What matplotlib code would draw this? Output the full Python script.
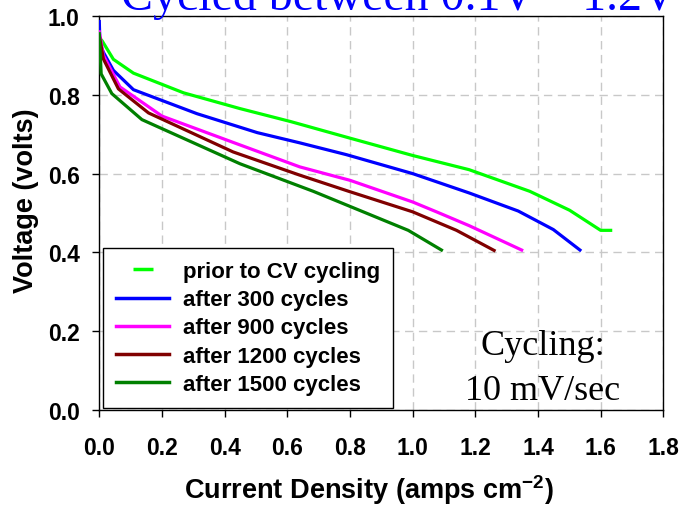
import matplotlib
matplotlib.use("Agg")
import matplotlib.pyplot as plt
from matplotlib.lines import Line2D

# polarization curves (current density, voltage)
prior_x = [0.0, 0.009, 0.045, 0.109, 0.269, 0.449, 0.611, 0.8, 1.0, 1.18, 1.374, 1.501, 1.6, 1.632]
prior_y = [0.945, 0.937, 0.89, 0.855, 0.805, 0.765, 0.732, 0.69, 0.646, 0.61, 0.555, 0.507, 0.456, 0.456]

c300_x = [0.0, 0.002, 0.013, 0.045, 0.109, 0.312, 0.504, 0.64, 0.789, 1.0, 1.18, 1.337, 1.449, 1.534]
c300_y = [0.986, 0.93, 0.908, 0.862, 0.813, 0.752, 0.704, 0.678, 0.648, 0.6, 0.551, 0.505, 0.458, 0.406]

c900_x = [0.0, 0.013, 0.066, 0.2, 0.438, 0.64, 0.8, 1.0, 1.076, 1.18, 1.348]
c900_y = [0.96, 0.9, 0.82, 0.746, 0.676, 0.617, 0.583, 0.528, 0.503, 0.468, 0.406]

c1200_x = [0.0, 0.013, 0.061, 0.157, 0.427, 0.64, 0.8, 1.0, 1.14, 1.26]
c1200_y = [0.95, 0.891, 0.815, 0.754, 0.655, 0.596, 0.554, 0.503, 0.456, 0.405]

c1500_x = [0.0, 0.006, 0.04, 0.136, 0.449, 0.683, 0.986, 1.092]
c1500_y = [0.955, 0.853, 0.803, 0.737, 0.625, 0.555, 0.456, 0.406]

labels = ["prior to CV cycling", "after 300 cycles", "after 900 cycles",
          "after 1200 cycles", "after 1500 cycles"]
colors = ["#00ff00", "#0000ff", "#ff00ff", "#800000", "#008000"]

x_ticks = [0.0, 0.2, 0.4, 0.6, 0.8, 1.0, 1.2, 1.4, 1.6, 1.8]
y_ticks = [0.0, 0.2, 0.4, 0.6, 0.8, 1.0]

plt.rcParams['font.family'] = ['Liberation Sans', 'DejaVu Sans']
plt.rcParams['mathtext.fontset'] = 'custom'
plt.rcParams['mathtext.rm'] = 'Liberation Sans'
plt.rcParams['mathtext.bf'] = 'Liberation Sans:bold'

W, H = 683, 506
fig = plt.figure(figsize=(W / 100, H / 100), dpi=100)
ax_l, ax_r, ax_t, ax_b = 99.3, 663.3, 17, 411
ax = fig.add_axes([ax_l / W, 1 - ax_b / H, (ax_r - ax_l) / W, (ax_b - ax_t) / H])
aw, ah = ax_r - ax_l, ax_b - ax_t

series = [(prior_x, prior_y), (c300_x, c300_y), (c900_x, c900_y),
          (c1200_x, c1200_y), (c1500_x, c1500_y)]
for (xs, ys), col in zip(series, colors):
    ax.plot(xs, ys, color=col, lw=2.3, zorder=3)

ax.set_xlim(0, 1.8)
ax.set_ylim(0, 1.0)
ax.set_xticks(x_ticks)
ax.set_yticks(y_ticks)
ax.set_xticklabels(["%.1f" % v for v in x_ticks], fontsize=16.5, fontweight='bold')
ax.set_yticklabels(["%.1f" % v for v in y_ticks], fontsize=16.5, fontweight='bold')
ax.tick_params(direction='out', length=5, width=1, top=False, right=False)
ax.tick_params(axis='x', pad=14)
ax.tick_params(axis='y', pad=9)
ax.grid(True, color='#c8c8c8', linestyle=(0, (6, 4)), lw=1)
for s in ax.spines.values():
    s.set_linewidth(1.0)
    s.set_color('black')

ax.set_xlabel("Current Density (amps cm$^{\\mathbf{-2}}$)", fontsize=19.5, fontweight='bold')
ax.set_ylabel("Voltage (volts)", fontsize=19.5, fontweight='bold')
ax.xaxis.label.set_va('center')
ax.yaxis.label.set_va('center')
ax.xaxis.set_label_coords((368.5 - ax_l) / aw, (ax_b - 490) / ah)
ax.yaxis.set_label_coords((26 - ax_l) / aw, (ax_b - 201) / ah)

handles = [Line2D([], [], color=colors[0], lw=0, marker='_', markersize=14, markeredgewidth=2.5)]
handles += [Line2D([], [], color=c, lw=2.5) for c in colors[1:]]
leg = ax.legend(handles, labels, loc='lower left',
                bbox_to_anchor=((102.7 - ax_l) / aw, (ax_b - 409) / ah),
                borderaxespad=0, prop={'weight': 'bold', 'size': 16}, frameon=True,
                fancybox=False, edgecolor='black', framealpha=1, handlelength=2.4,
                borderpad=0.6, labelspacing=0.32, handletextpad=0.6)
leg.get_frame().set_linewidth(1.0)
leg.set_zorder(5)

cx = (543 - ax_l) / aw
ax.text(cx, (ax_b - 355) / ah, "Cycling:", transform=ax.transAxes, ha='center',
        va='baseline', fontsize=26, family='Liberation Serif')
ax.text(cx, (ax_b - 400) / ah, "10 mV/sec", transform=ax.transAxes, ha='center',
        va='baseline', fontsize=26, family='Liberation Serif')

fig.text(121 / W, 1 - 10 / H, "Cycled between 0.1V \u2013 1.2V", color='#0000ff',
         fontsize=34.5, family='Liberation Serif', ha='left', va='baseline')

fig.savefig("out.png", dpi=100)
